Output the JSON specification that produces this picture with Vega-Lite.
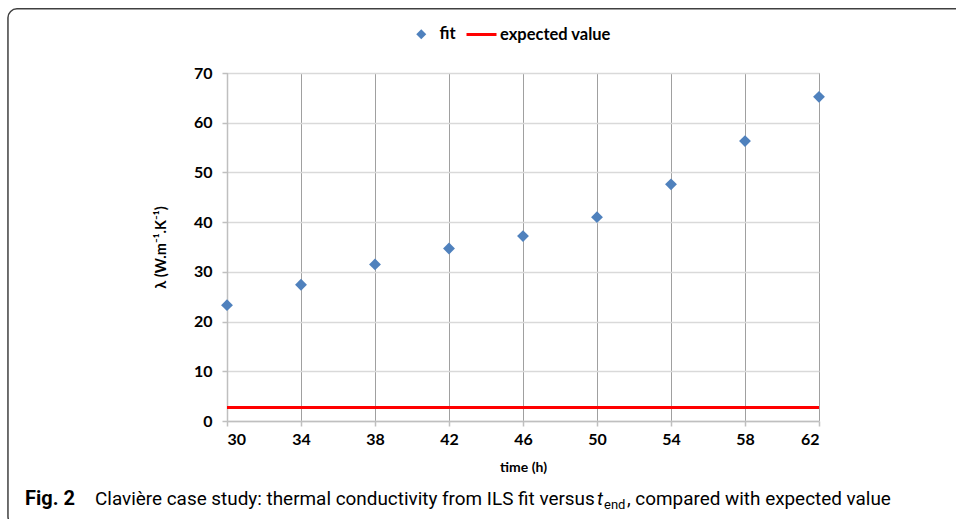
{
  "$schema": "https://vega.github.io/schema/vega-lite/v6.json",
  "autosize": {"type": "none"},
  "width": 592,
  "height": 348,
  "padding": {"left": 227, "top": 73, "right": 137, "bottom": 98},
  "background": "white",
  "config": {
    "view": {"stroke": null},
    "axis": {"labelFont": "Lato", "titleFont": "Lato", "labelColor": "#000000", "titleColor": "#000000"}
  },
  "datasets": {
    "fit": [
      {"series": "fit", "time": 30, "lambda": 23.3},
      {"series": "fit", "time": 34, "lambda": 27.4},
      {"series": "fit", "time": 38, "lambda": 31.5},
      {"series": "fit", "time": 42, "lambda": 34.7},
      {"series": "fit", "time": 46, "lambda": 37.2},
      {"series": "fit", "time": 50, "lambda": 41.0},
      {"series": "fit", "time": 54, "lambda": 47.6},
      {"series": "fit", "time": 58, "lambda": 56.3},
      {"series": "fit", "time": 62, "lambda": 65.2}
    ],
    "expected": [
      {"series": "expected value", "lambda": 2.7}
    ]
  },
  "layer": [
    {
      "data": {"name": "fit"},
      "mark": {"type": "point", "filled": true, "opacity": 1, "size": 140, "shape": "diamond"},
      "encoding": {
        "x": {
          "field": "time", "type": "quantitative",
          "scale": {"domain": [30, 62], "nice": false, "zero": false},
          "axis": {
            "title": "time (h)", "titleFontSize": 14, "titleFontWeight": "bold", "titlePadding": 13,
            "values": [30, 34, 38, 42, 46, 50, 54, 58, 62],
            "labelFontSize": 16, "labelFontWeight": "bold", "labelPadding": 5,
            "domainColor": "#bfbfbf", "domainWidth": 1.5,
            "tickColor": "#bfbfbf", "tickSize": 5, "tickWidth": 1.5,
            "grid": true, "gridColor": "#404040", "gridDash": [1, 1], "gridWidth": 1
          }
        },
        "y": {
          "field": "lambda", "type": "quantitative",
          "scale": {"domain": [0, 70], "nice": false},
          "axis": {
            "title": "λ (W.m⁻¹.K⁻¹)", "titleFontSize": 14.5, "titleFontWeight": "bold", "titlePadding": 25,
            "values": [0, 10, 20, 30, 40, 50, 60, 70],
            "labelFontSize": 16, "labelFontWeight": "bold", "labelPadding": 10,
            "domainColor": "#bfbfbf", "domainWidth": 1.5,
            "tickColor": "#bfbfbf", "tickSize": 5, "tickWidth": 1.5,
            "grid": true, "gridColor": "#d9d9d9", "gridWidth": 1.5
          }
        },
        "color": {
          "field": "series", "type": "nominal",
          "scale": {"domain": ["fit"], "range": ["#4f81bd"]},
          "legend": {
            "title": null, "orient": "none", "direction": "horizontal",
            "legendX": 186, "legendY": -47,
            "labelFont": "Lato", "labelFontSize": 16.5, "labelFontWeight": "bold", "labelColor": "#000000",
            "symbolType": "diamond", "symbolSize": 100, "labelOffset": 10
          }
        }
      }
    },
    {
      "data": {"name": "expected"},
      "mark": {"type": "rule", "strokeWidth": 3, "color": "#ff0000"},
      "encoding": {
        "y": {"field": "lambda", "type": "quantitative"},
        "strokeDash": {
          "field": "series", "type": "nominal",
          "scale": {"domain": ["expected value"], "range": [[1, 0]]},
          "legend": {
            "title": null, "orient": "none", "direction": "horizontal",
            "legendX": 238, "legendY": -55,
            "labelFont": "Lato", "labelFontSize": 16.5, "labelFontWeight": "bold", "labelColor": "#000000",
            "symbolType": "stroke", "symbolSize": 900, "symbolStrokeColor": "#ff0000", "symbolStrokeWidth": 3,
            "labelOffset": 2
          }
        }
      }
    },
    {
      "data": {"values": [{}]},
      "mark": {"type": "rect", "fill": null, "filled": false, "stroke": "#404040", "strokeWidth": 1.5, "cornerRadius": 9},
      "encoding": {
        "x": {"datum": 18.16}, "x2": {"datum": 71.5},
        "y": {"datum": 82.9}, "y2": {"datum": -21.0}
      }
    },
    {
      "data": {"values": [{}]},
      "mark": {"type": "text", "text": "Fig. 2", "font": "Roboto", "fontSize": 20, "fontWeight": "bold", "align": "left", "baseline": "alphabetic", "color": "#000000"},
      "encoding": {"x": {"datum": 19.08}, "y": {"datum": -16.9}}
    },
    {
      "data": {"values": [{}]},
      "mark": {"type": "text", "text": "Clavière case study: thermal conductivity from ILS fit versus", "font": "Roboto", "fontSize": 18.9, "align": "left", "baseline": "alphabetic", "color": "#000000"},
      "encoding": {"x": {"datum": 22.865}, "y": {"datum": -16.9}}
    },
    {
      "data": {"values": [{}]},
      "mark": {"type": "text", "text": "t", "font": "Roboto", "fontSize": 19, "fontStyle": "italic", "align": "left", "baseline": "alphabetic", "color": "#000000"},
      "encoding": {"x": {"datum": 50.0}, "y": {"datum": -16.9}}
    },
    {
      "data": {"values": [{}]},
      "mark": {"type": "text", "text": "end", "font": "Roboto", "fontSize": 13, "align": "left", "baseline": "alphabetic", "color": "#000000"},
      "encoding": {"x": {"datum": 50.38}, "y": {"datum": -17.8}}
    },
    {
      "data": {"values": [{}]},
      "mark": {"type": "text", "text": ", compared with expected value", "font": "Roboto", "fontSize": 18.9, "align": "left", "baseline": "alphabetic", "color": "#000000"},
      "encoding": {"x": {"datum": 51.62}, "y": {"datum": -16.9}}
    }
  ]
}
